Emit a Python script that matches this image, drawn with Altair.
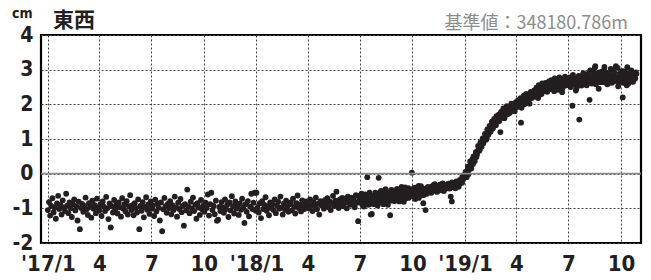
import altair as alt
import pandas as pd

# East-west displacement (cm), sampled every 2 days from 1 Jan of each year
vals_2017 = [
    -1.05, -0.82, -1.21, -0.93, -0.71, -1.12, -0.98, -1.30, -0.86, -0.64, -1.02, -0.90, -1.18, -0.77, -0.97, -1.08,
    -0.58, -0.92, -1.14, -0.83, -1.00, -1.25, -0.88, -0.74, -1.06, -0.95, -1.35, -0.81, -1.60, -0.99,
    -0.87, -1.10, -0.93, -0.69, -1.03, -1.19, -0.85, -0.96, -1.27, -0.78, -1.01, -0.91, -1.14, -0.72, -0.98, -1.06,
    -0.89, -1.22, -0.80, -0.95, -1.08, -0.67, -1.00, -1.31, -0.86, -1.55, -0.94, -1.12, -0.76, -1.03, -0.90,
    -1.15, -0.83, -0.97, -1.24, -0.71, -1.01, -0.88, -1.09, -0.79, -1.18, -0.94, -0.62, -1.05, -0.91, -1.20,
    -0.85, -0.99, -1.12, -0.74, -1.60, -0.93, -1.07, -0.82, -1.26, -0.96, -0.68, -1.04, -0.89, -1.16, -0.80,
    -1.01, -0.92, -1.22, -0.75, -1.09, -0.86, -0.98, -1.35, -0.83, -1.66, -1.03, -0.70, -0.94, -1.13, -0.87, -1.00,
    -0.79, -1.17, -0.91, -1.05, -0.66, -0.97, -1.24, -0.84, -1.02, -0.73, -1.11, -0.93, -1.50, -0.88, -1.06,
    -0.46, -0.95, -1.14, -0.81, -1.00, -0.69, -1.08, -0.90, -1.30, -0.85, -0.98, -1.19, -0.76, -1.03, -0.92,
    -1.10, -0.84, -0.99, -0.60, -1.21, -0.88, -0.55, -1.05, -0.93, -1.17, -0.78, -1.36, -1.33, -0.96, -1.08, -0.82,
    -0.97, -1.13, -0.74, -1.02, -0.89, -1.25, -0.83, -1.06, -0.65, -0.94, -1.15, -0.80, -1.01, -0.91, -1.19,
    -0.86, -1.04, -0.72, -0.98, -1.42, -0.88, -1.10, -0.79, -1.23, -0.95, -0.58, -1.02, -0.84, -0.55, -1.07,
]
vals_2018 = [
    -0.55, -0.98, -1.12, -0.85, -1.28, -0.79, -1.02, -0.90, -0.68, -1.07, -0.94, -1.20, -0.83, -0.99, -0.88, -1.05,
    -0.74, -1.14, -0.92, -0.81, -1.01, -0.66, -0.97, -1.18, -0.86, -1.04, -0.78, -0.95, -1.10, -0.88,
    -0.83, -1.06, -0.72, -0.96, -1.15, -0.85, -0.63, -0.99, -0.90, -1.09, -0.77, -0.93, -1.02, -0.80, -0.95, -0.86,
    -1.00, -0.74, -0.91, -1.08, -0.82, -0.95, -0.69, -1.03, -0.87, -1.18, -0.79, -0.92, -0.84, -1.01, -0.76,
    -0.90, -0.71, -0.97, -0.80, -1.05, -0.86, -0.64, -0.93, -0.78, -0.52, -0.88, -0.99, -0.74, -0.85, -0.70,
    -0.94, -0.72, -0.83, -1.00, -0.66, -0.81, -0.90, -0.69, -0.86, -0.75, -0.97, -0.62, -0.84, -1.37, -0.73,
    -0.80, -0.58, -0.91, -0.70, -0.84, -0.63, -0.10, -0.77, -0.88, -1.18, -1.16, -0.66, -0.81, -0.55, -0.75, -0.92,
    -0.12, -0.70, -0.52, -0.83, -0.61, -0.74, -0.45, -0.68, -0.90, -0.57, -1.20, -0.72, -0.48, -0.63, -0.79,
    -0.66, -0.44, -0.75, -0.55, -0.69, -0.38, -0.62, -0.81, -0.50, -0.71, -0.57, -0.42, -0.67, -0.52, 0.03,
    -0.60, -0.41, -0.73, -0.49, -0.56, -0.35, -0.64, -0.47, -0.53, -0.85, -0.44, -1.05, -0.58, -0.38, -0.51, -0.46,
    -0.55, -0.36, -0.48, -0.30, -0.44, -0.52, -0.39, -0.33, -0.47, -0.41, -0.28, -0.50, -0.37, -0.43, -0.32,
    -0.40, -0.31, -0.66, -0.80, -0.36, -0.27, -0.42, -0.33, -0.24, -0.38, -0.29, -0.20, -0.26, -0.14, -0.08,
]
# extra observations on the in-between days, second half of 2018
vals_2018_h2b = [
    -0.62, -0.85, -0.70, -0.95, -0.60, -0.78, -0.66, -0.90, -0.55, -0.74, -0.82, -0.64, -0.88, -0.69, -0.77,
    -0.58, -0.80, -0.66, -0.50, -0.75, -0.88, -0.62, -0.70, -0.54, -0.84, -0.60, -0.72, -0.47, -0.78, -0.65, -0.56,
    -0.72, -0.50, -0.63, -0.80, -0.46, -0.68, -0.58, -0.74, -0.40, -0.64, -0.55, -0.70, -0.48, -0.61, -0.53,
    -0.45, -0.66, -0.52, -0.40, -0.58, -0.70, -0.47, -0.36, -0.55, -0.62, -0.43, -0.50, -0.57, -0.41, -0.54,
    -0.46, -0.38, -0.50, -0.33, -0.45, -0.40, -0.52, -0.35, -0.42, -0.31, -0.48, -0.37, -0.44, -0.34, -0.40,
    -0.36, -0.29, -0.43, -0.32, -0.25, -0.39, -0.30, -0.35, -0.22, -0.31, -0.27, -0.18, -0.23, -0.10, -0.05,
]
vals_2019 = [
    -0.05, 0.00, 0.08, -0.02, 0.18, 0.25, 0.33, 0.28, 0.45, 0.52, 0.48, 0.65, 0.72, 0.70, 0.85, 0.92,
    0.88, 1.00, 1.08, 1.02, 1.18, 1.25, 1.20, 1.35, 1.30, 1.42, 1.48, 1.40, 1.55, 1.60,
    1.52, 1.20, 1.65, 1.72, 1.62, 1.78, 1.70, 1.85, 1.80, 1.75, 1.90, 1.84, 1.95, 1.88, 2.00, 1.93,
    2.02, 1.96, 2.08, 1.47, 2.05, 2.12, 2.00, 2.15, 2.22, 2.10, 2.18, 2.28, 2.20, 2.32, 2.25,
    2.35, 2.27, 2.40, 2.18, 2.45, 2.38, 2.30, 2.50, 2.42, 2.55, 2.47, 2.36, 2.58, 2.52, 2.44,
    2.60, 2.53, 2.38, 2.66, 2.57, 2.70, 2.62, 2.50, 2.68, 2.35, 2.64, 2.72, 2.55, 2.61, 2.67,
    2.56, 2.70, 2.62, 1.96, 2.58, 2.75, 2.40, 2.66, 2.60, 1.56, 2.72, 2.54, 2.68, 2.80, 2.63, 2.57,
    2.74, 2.66, 2.13, 2.82, 2.60, 2.70, 2.92, 3.10, 2.65, 2.78, 2.45, 2.86, 2.71, 2.95, 2.64,
    3.08, 2.76, 2.68, 2.90, 2.62, 2.84, 2.72, 3.00, 2.66, 2.80, 3.10, 2.74, 2.52, 2.88, 2.70,
    2.82, 2.20, 2.95, 2.68, 2.78, 3.07, 2.60, 2.85, 2.72, 2.90, 2.65, 2.80, 2.75, 2.88,
]
# extra observations on the in-between days of 2019
vals_2019b = [
    0.05, -0.10, 0.20, 0.12, 0.35, 0.15, 0.42, 0.50, 0.36, 0.62, 0.55, 0.80, 0.66, 0.90, 0.78,
    1.02, 0.95, 1.15, 0.98, 1.28, 1.12, 1.38, 1.22, 1.50, 1.32, 1.58, 1.45, 1.66, 1.50,
    1.70, 1.58, 1.78, 1.65, 1.88, 1.60, 1.82, 1.95, 1.72, 1.90, 1.78, 2.02, 1.85, 1.98, 1.80, 2.06,
    1.92, 2.12, 2.00, 2.18, 1.90, 2.10, 2.25, 2.05, 2.30, 2.14, 2.22, 2.02, 2.36, 2.18, 2.30,
    2.40, 2.22, 2.48, 2.33, 2.55, 2.28, 2.44, 2.60, 2.38, 2.52, 2.62, 2.40, 2.56, 2.66, 2.48,
    2.70, 2.45, 2.62, 2.75, 2.52, 2.66, 2.42, 2.78, 2.58, 2.70, 2.48, 2.65, 2.80, 2.55, 2.72,
    2.62, 2.78, 2.50, 2.68, 2.85, 2.58, 2.72, 2.46, 2.66, 2.82, 2.55, 2.75, 2.62, 2.90, 2.60,
    2.76, 2.55, 2.88, 2.68, 2.98, 2.62, 2.80, 2.72, 3.05, 2.58, 2.84, 2.70, 2.92, 2.64, 2.78, 2.86,
    2.66, 2.94, 2.74, 2.58, 2.86, 2.70, 3.02, 2.62, 2.80, 2.92, 2.68, 2.76, 3.05, 2.64, 2.82,
    2.72, 2.96, 2.62, 2.84, 2.76, 2.55, 2.90, 2.70, 2.80, 2.98, 2.66, 2.86, 2.74, 2.92,
]
series_starts = ["2017-01-01", "2018-01-01", "2018-07-02", "2019-01-01", "2019-01-02"]
series_vals = [vals_2017, vals_2018, vals_2018_h2b, vals_2019, vals_2019b]

tick_dates = [(y, m) for y in (2017, 2018, 2019) for m in (1, 4, 7, 10)]
y_ticks = [-2, -1, 0, 1, 2, 3, 4]
title_text = "東西"
unit_text = "cm"
base_text = "基準値：348180.786m"

frames = []
for start, vals in zip(series_starts, series_vals):
    frames.append(pd.DataFrame({
        "date": pd.date_range(start=start, periods=len(vals), freq="2D"),
        "v": vals,
    }))
df = pd.concat(frames, ignore_index=True)
one = pd.DataFrame({"k": [0]})

NUM_FONT = "Liberation Sans Narrow, DejaVu Sans Condensed, Arial Narrow, sans-serif"
CJK_FONT = "Noto Sans CJK JP"
INK = "#231f20"

x_axis = alt.Axis(
    title=None,
    values=[alt.DateTime(year=y, month=m, date=1) for y, m in tick_dates],
    labelExpr="month(datum.value) == 0 ? \"'\" + timeFormat(datum.value, '%y') + '/1' : toString(month(datum.value) + 1)",
    labelFont=NUM_FONT, labelFontSize=22, labelFontWeight="bold", labelColor=INK,
    labelPadding=10, labelFlush=False, labelOverlap=False,
    domain=False, ticks=False,
    grid=True, gridColor="#444444", gridDash=[2, 2], gridWidth=1,
)
y_axis = alt.Axis(
    title=None, values=y_ticks,
    labelExpr="toString(datum.value)",
    labelFont=NUM_FONT, labelFontSize=21, labelFontWeight="bold", labelColor=INK,
    labelPadding=8, labelFlush=False, labelOverlap=False,
    domain=False, ticks=False,
    grid=True, gridColor="#444444", gridDash=[2, 2], gridWidth=1,
)
y_scale = alt.Scale(domain=[-2, 4], nice=False)
x_scale = alt.Scale(domain=[alt.DateTime(year=2016, month=12, date=20),
                            alt.DateTime(year=2019, month=11, date=5)])

points = alt.Chart(df).mark_circle(size=34, color=INK, opacity=1).encode(
    x=alt.X("date:T", scale=x_scale, axis=x_axis),
    y=alt.Y("v:Q", scale=y_scale, axis=y_axis),
)

zero = alt.Chart(one).mark_rule(color="#8a8a8a", strokeWidth=1.6).encode(
    y=alt.Y(datum=0, scale=y_scale, axis=y_axis)
)

title = alt.Chart(one).mark_text(
    text=title_text, font=CJK_FONT, fontSize=21, fontWeight="bold", color=INK,
    align="left", baseline="alphabetic",
).encode(x=alt.value(12), y=alt.value(-8))

unit = alt.Chart(one).mark_text(
    text=unit_text, font=NUM_FONT, fontSize=14, fontWeight="bold", color=INK,
    align="left", baseline="alphabetic",
).encode(x=alt.value(-29), y=alt.value(-17))

base = alt.Chart(one).mark_text(
    text=base_text, font=CJK_FONT, fontSize=18, fontWeight="normal", color="#8c8c8c",
    align="right", baseline="alphabetic",
).encode(x=alt.value(587), y=alt.value(-6))

chart = alt.layer(points, zero, title, unit, base).properties(
    width=600, height=208,
    padding={"left": 33, "top": 27, "right": 2, "bottom": 40},
    autosize=alt.AutoSizeParams(type="none"),
).configure_view(stroke="black", strokeWidth=2.2)

chart.save("out.html", embed_options={"renderer": "svg", "actions": False})
